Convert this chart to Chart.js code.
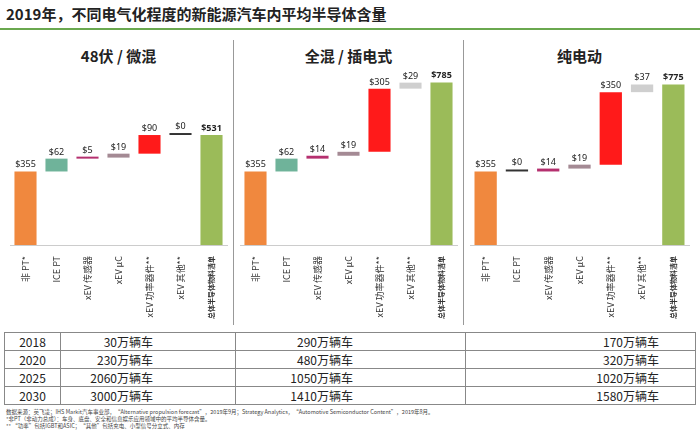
<!DOCTYPE html>
<html><head><meta charset="utf-8">
<script src="https://cdn.jsdelivr.net/npm/chart.js@4"></script>
<style>
body{margin:0;width:700px;height:434px;background:#fff;font-family:"Noto Sans CJK SC","Noto Sans",sans-serif;position:relative;overflow:hidden}
#title{position:absolute;left:6px;top:3px;font-size:15px;font-weight:bold;color:#222}
#rule{position:absolute;left:0;top:28px;width:700px;height:2px;background:#6aa84f}
.panel{position:absolute;top:40px;height:285px;border-right:1px solid #999}
.ptitle{position:absolute;top:5px;width:100%;text-align:center;font-size:15px;font-weight:bold;color:#222}
canvas{position:absolute;left:0;top:30px}
table{position:absolute;left:4px;top:332px;width:692px;border-collapse:collapse;font-size:12px;color:#222;table-layout:fixed}
td{border:1px solid #888;height:17px;padding:0 8px;line-height:17px}
td.y{text-align:center}
td.v{text-align:right}
#notes{position:absolute;left:6px;top:409px;font-size:5.5px;line-height:7px;color:#444}
</style></head><body>
<div id="title">2019年，不同电气化程度的新能源汽车内平均半导体含量</div>
<div id="rule"></div>
<div class="panel" style="left:4px;width:229px"><div class="ptitle">48伏 / 微混</div><canvas id="c0" width="229" height="252"></canvas></div>
<div class="panel" style="left:234px;width:229px"><div class="ptitle">全混 / 插电式</div><canvas id="c1" width="229" height="252"></canvas></div>
<div class="panel" style="left:464px;width:231px;border-right:none"><div class="ptitle">纯电动</div><canvas id="c2" width="231" height="252"></canvas></div>
<table id="tbl"><colgroup><col style="width:56px"><col style="width:175px"><col style="width:230px"><col></colgroup></table>
<div id="notes">数据来源：英飞凌；IHS Markit汽车事业部，“Alternative propulsion forecast”，2019年9月；Strategy Analytics，“Automotive Semiconductor Content”，2019年8月。<br>*非PT（非动力总成）：车身、底盘、安全和信息娱乐应用领域中的平均半导体含量。<br>** “功率”包括IGBT和ASIC；“其他”包括充电、小型信号分立式、内存</div>
<script>
const categories = ['非 PT*', 'ICE PT', 'xEV 传感器', 'xEV μC', 'xEV 功率器件**', 'xEV 其他**', '总体半导体物料清单'];
const mildValues = [355, 62, 5, 19, 90, 0, 531];
const phevValues = [355, 62, 14, 19, 305, 29, 785];
const bevValues = [355, 0, 14, 19, 350, 37, 775];
const years = ['2018', '2020', '2025', '2030'];
const mildUnits = ['30万辆车', '230万辆车', '2060万辆车', '3000万辆车'];
const phevUnits = ['290万辆车', '480万辆车', '1050万辆车', '1410万辆车'];
const bevUnits = ['170万辆车', '320万辆车', '1020万辆车', '1580万辆车'];
const colors = ['#f0883e', '#6fb39a', '#b5306f', '#a48a94', '#ff1a1a', '#cfcfcf', '#9bbb59'];

function floating(vals) {
  let run = 0;
  return vals.map((v, i) => {
    if (i === vals.length - 1) return [0, v];
    const r = [run, run + v]; run += v; return r;
  });
}

const topLabels = {
  id: 'topLabels',
  afterDatasetsDraw(chart) {
    const ctx = chart.ctx, meta = chart.getDatasetMeta(0);
    const vals = chart.data.datasets[0].raw;
    ctx.save();
    ctx.textAlign = 'center'; ctx.fillStyle = '#222';
    meta.data.forEach((b, i) => {
      const last = i === vals.length - 1;
      ctx.font = (last ? 'bold ' : '') + '9px "Noto Sans", sans-serif';
      ctx.fillText('$' + vals[i], b.x, Math.min(b.y, b.base) - 4);
    });
    ctx.restore();
  }
};

function makeChart(id, vals) {
  new Chart(document.getElementById(id), {
    type: 'bar',
    data: { labels: categories, datasets: [{ data: floating(vals), raw: vals,
      backgroundColor: vals.map((v, i) => v === 0 ? '#333' : colors[i]),
      barPercentage: 0.75, categoryPercentage: 0.95, minBarLength: 2 }] },
    options: {
      responsive: false, animation: false,
      layout: { padding: { left: 6, right: 6, top: 0 } },
      plugins: { legend: { display: false }, tooltip: { enabled: false } },
      scales: {
        y: { min: 0, max: 845, display: false },
        x: { grid: { display: false }, border: { color: '#ccc' },
          ticks: { maxRotation: 90, minRotation: 90, color: '#333', autoSkip: false,
            font: ctx => ({ size: ctx.index === 6 ? 7 : 9, weight: ctx.index === 6 ? 'bold' : 'normal', family: '"Noto Sans CJK SC", sans-serif' }) } }
      }
    },
    plugins: [topLabels]
  });
}
makeChart('c0', mildValues);
makeChart('c1', phevValues);
makeChart('c2', bevValues);

document.getElementById('tbl').innerHTML += years.map((y, i) =>
  `<tr><td class="y">${y}</td><td class="v" style="padding-right:82px">${mildUnits[i]}</td><td class="v" style="padding-right:112px">${phevUnits[i]}</td><td class="v" style="padding-right:36px">${bevUnits[i]}</td></tr>`).join('');
</script>
</body></html>
